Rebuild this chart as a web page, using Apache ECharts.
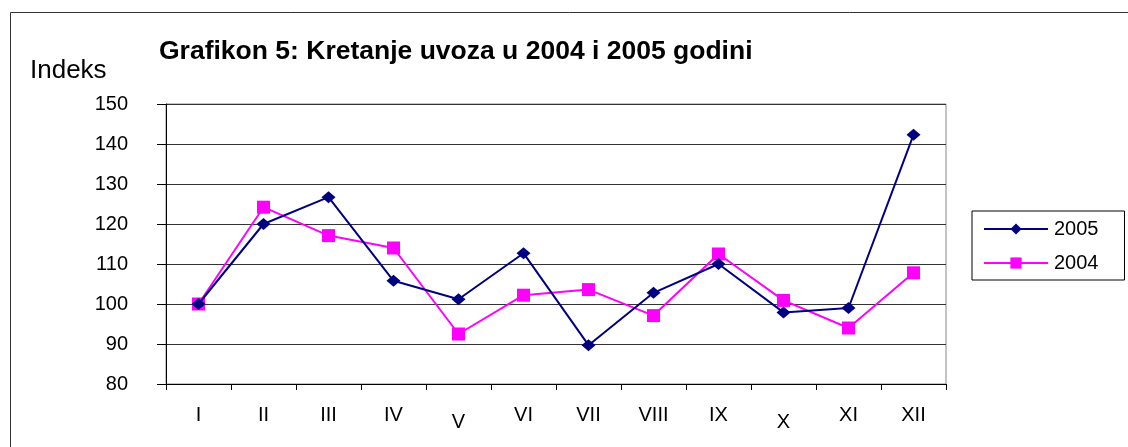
<!DOCTYPE html>
<html>
<head>
<meta charset="utf-8">
<script src="https://cdn.jsdelivr.net/npm/echarts@6/dist/echarts.min.js"></script>
<style>
  html, body { margin: 0; padding: 0; background: #fff; }
  #chart { width: 1128px; height: 447px; }
</style>
</head>
<body>
<div id="chart"></div>
<script>
// mjeseci (rimski brojevi)
const months = ['I', 'II', 'III', 'IV', 'V', 'VI', 'VII', 'VIII', 'IX', 'X', 'XI', 'XII'];
// indeksi uvoza
const idx2005 = [100, 120, 126.7, 105.8, 101.2, 112.7, 89.7, 102.8, 110, 97.9, 99, 142.3];
const idx2004 = [100, 124.2, 117.1, 114, 92.5, 102.2, 103.6, 97.1, 112.5, 100.9, 94, 107.8];

const font = '"Liberation Sans", Arial, sans-serif';

const chart = echarts.init(document.getElementById('chart'));
chart.setOption({
  animation: false,
  textStyle: { fontFamily: font },
  graphic: [
    {
      type: 'rect',
      shape: { x: 10.5, y: 12.5, width: 1200, height: 500 },
      style: { fill: 'none', stroke: '#333', lineWidth: 1 }
    },
    {
      type: 'text',
      left: 30, top: 58,
      style: { text: 'Indeks', font: '26px ' + font, fill: '#000' }
    }
  ],
  title: {
    text: 'Grafikon 5: Kretanje uvoza u 2004 i 2005 godini',
    left: 159, top: 38,
    padding: 0,
    textStyle: { fontFamily: font, fontSize: 26.5, fontWeight: 'bold', color: '#000' }
  },
  legend: {
    orient: 'vertical',
    left: 972, top: 211,
    padding: [8, 26, 7, 11],
    itemGap: 14,
    itemWidth: 64,
    itemHeight: 14,
    borderColor: '#000',
    borderWidth: 1,
    textStyle: { fontFamily: font, fontSize: 20, color: '#000', padding: [0, 0, 0, 1] },
    data: ['2005', '2004']
  },
  grid: {
    left: 166, top: 104, width: 780, height: 280,
    show: true, borderColor: '#888', borderWidth: 1
  },
  xAxis: {
    type: 'category',
    data: months,
    boundaryGap: true,
    axisLine: { lineStyle: { color: '#000', width: 1 } },
    axisTick: { show: true, interval: 0, length: 6, lineStyle: { color: '#000' } },
    axisLabel: {
      interval: 0,
      margin: 21,
      fontFamily: font, fontSize: 20, color: '#000',
      formatter: v => (v === 'V' || v === 'X') ? '{low|' + v + '}' : v,
      rich: { low: { fontFamily: font, fontSize: 20, color: '#000', padding: [7, 0, 0, 0] } }
    },
    splitLine: { show: false }
  },
  yAxis: {
    type: 'value',
    min: 80, max: 150, interval: 10,
    axisLine: { show: true, lineStyle: { color: '#000', width: 1 } },
    axisTick: { show: true, length: 9, lineStyle: { color: '#000' } },
    axisLabel: { margin: 38, fontFamily: font, fontSize: 20, color: '#000' },
    splitLine: { lineStyle: { color: '#333', width: 1 } }
  },
  series: [
    {
      name: '2005',
      type: 'line',
      data: idx2005,
      symbol: 'diamond',
      symbolSize: [14, 12],
      lineStyle: { color: '#000080', width: 2 },
      itemStyle: { color: '#000080' },
      z: 3
    },
    {
      name: '2004',
      type: 'line',
      data: idx2004,
      symbol: 'rect',
      symbolSize: 13,
      lineStyle: { color: '#FF00FF', width: 2 },
      itemStyle: { color: '#FF00FF' },
      z: 2
    }
  ]
});
</script>
</body>
</html>
